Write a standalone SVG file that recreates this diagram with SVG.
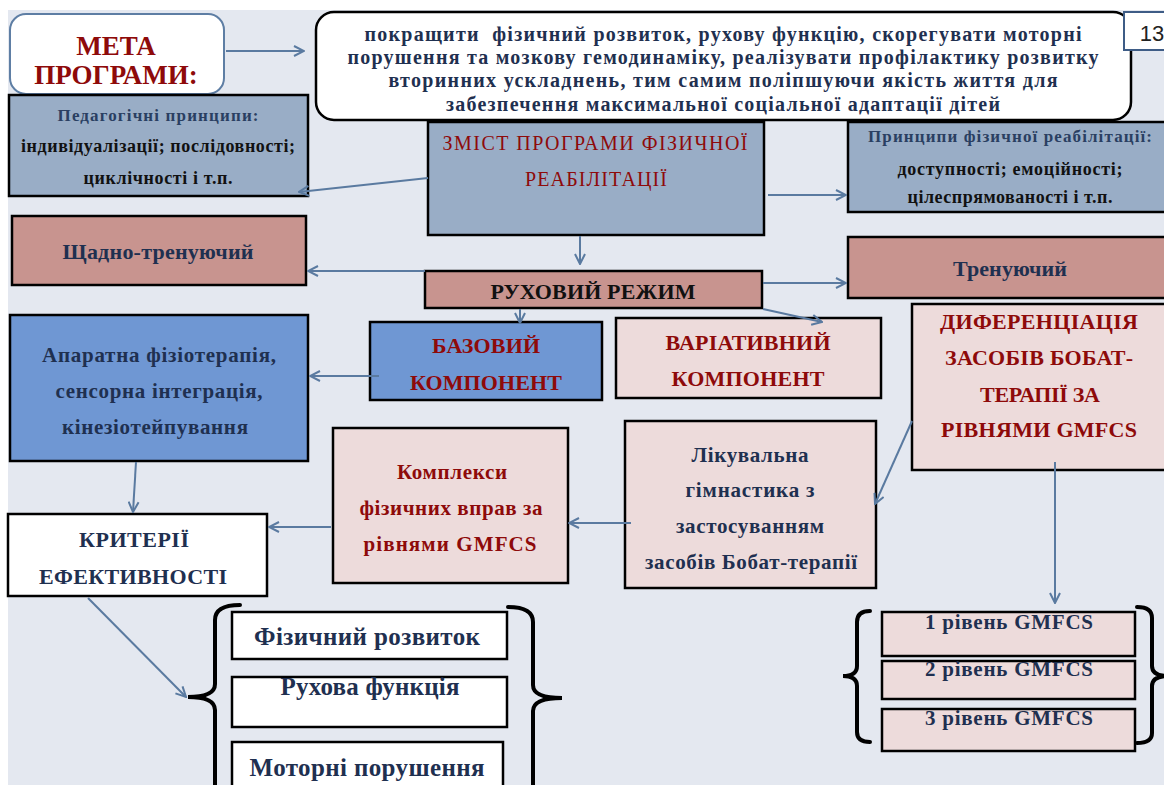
<svg xmlns="http://www.w3.org/2000/svg" width="1164" height="785" viewBox="0 0 1164 785">
<defs>
<style>
.bx{stroke:#000;stroke-width:2.5}
.gb{fill:#99ADC6}
.rs{fill:#C8948F}
.pk{fill:#EDDBDB}
.bl{fill:#6F97D3}
.wh{fill:#fff}
text{font-family:"Liberation Serif","Times New Roman",serif;font-weight:bold;text-anchor:middle}
.nv{fill:#1F3050}
.rd{fill:#8E0A0A}
.bk{fill:#111}
.cn{stroke:#5A7AA0;stroke-width:2;fill:none}
.br{stroke:#000;stroke-width:4;fill:none;stroke-linecap:round}
</style>
<marker id="ar" viewBox="0 0 12 12" refX="11" refY="6" markerWidth="12" markerHeight="12" markerUnits="userSpaceOnUse" orient="auto">
<path d="M1,1 L11,6 L1,11" fill="none" stroke="#5A7AA0" stroke-width="2"/>
</marker>
</defs>
<rect x="0" y="0" width="1164" height="785" fill="#fff"/>
<rect x="8" y="10" width="1156" height="775" fill="#E4E8F0"/>

<g id="meta">
<rect x="10" y="14" width="214" height="80" rx="16" fill="#fff" stroke="#5E7EA4" stroke-width="2"/>
<text class="rd" x="116" y="55" font-size="27">МЕТА</text>
<text class="rd" x="116" y="84" font-size="27">ПРОГРАМИ:</text>
</g>

<g id="goal">
<rect x="316" y="12" width="815" height="108" rx="18" fill="#fff" stroke="#000" stroke-width="2.5"/>
<text class="nv" x="723" y="41" font-size="20" textLength="717">покращити&#160; фізичний розвиток, рухову функцію, скорегувати моторні</text>
<text class="nv" x="723" y="64" font-size="20" textLength="751">порушення та мозкову гемодинаміку, реалізувати профілактику розвитку</text>
<text class="nv" x="723" y="87" font-size="20" textLength="669">вторинних ускладнень, тим самим поліпшуючи якість життя для</text>
<text class="nv" x="723" y="111" font-size="20" textLength="554">забезпечення максимальної соціальної адаптації дітей</text>
</g>

<g id="page">
<rect x="1124" y="12" width="50" height="38" fill="#fff" stroke="#3E5C86" stroke-width="2"/>
<text x="1152" y="41" font-size="22" style="font-family:'Liberation Sans',Arial,sans-serif;font-weight:normal" fill="#222">13</text>
</g>

<g id="ped">
<rect class="bx gb" x="9" y="95" width="299" height="101"/>
<text x="158" y="121" font-size="17" fill="#2A3F62" textLength="201">Педагогічні принципи:</text>
<text class="bk" x="158" y="152" font-size="18" textLength="274">індивідуалізації; послідовності;</text>
<text class="bk" x="158" y="184" font-size="18" textLength="149">циклічності і т.п.</text>
</g>

<g id="zmist">
<rect class="bx gb" x="428" y="122" width="336" height="113"/>
<text class="rd" x="595" y="150" font-size="20" style="font-weight:normal" textLength="305">ЗМІСТ ПРОГРАМИ ФІЗИЧНОЇ</text>
<text class="rd" x="596" y="186" font-size="20" style="font-weight:normal" textLength="142">РЕАБІЛІТАЦІЇ</text>
</g>

<g id="princ">
<rect class="bx gb" x="848" y="122" width="320" height="90"/>
<text x="1010" y="142" font-size="17" fill="#2A3F62" textLength="284">Принципи фізичної реабілітації:</text>
<text class="bk" x="1010" y="175" font-size="18" textLength="225">доступності; емоційності;</text>
<text class="bk" x="1010" y="203" font-size="18" textLength="205">цілеспрямованості і т.п.</text>
</g>

<g id="shchadno">
<rect class="bx rs" x="12" y="216" width="294" height="69"/>
<text class="nv" x="158" y="259" font-size="22" textLength="191">Щадно-тренуючий</text>
</g>

<g id="rukhovyi">
<rect class="bx rs" x="425" y="271" width="337" height="37"/>
<text class="bk" x="593" y="299" font-size="22" textLength="205">РУХОВИЙ РЕЖИМ</text>
</g>

<g id="trenuiuchyi">
<rect class="bx rs" x="848" y="237" width="320" height="61"/>
<text class="nv" x="1010" y="276" font-size="22" textLength="114">Тренуючий</text>
</g>

<g id="bazovyi">
<rect class="bx bl" x="370" y="322" width="232" height="78"/>
<text class="rd" x="486" y="353" font-size="22" textLength="108">БАЗОВИЙ</text>
<text class="rd" x="486" y="390" font-size="22" textLength="152">КОМПОНЕНТ</text>
</g>

<g id="variatyvnyi">
<rect class="bx pk" x="616" y="318" width="265" height="80"/>
<text class="rd" x="748" y="350" font-size="22" textLength="165">ВАРІАТИВНИЙ</text>
<text class="rd" x="748" y="386" font-size="22" textLength="153">КОМПОНЕНТ</text>
</g>

<g id="dyferentsiatsiia">
<rect class="bx pk" x="912" y="304" width="256" height="166"/>
<text class="rd" x="1039" y="329" font-size="22" textLength="198">ДИФЕРЕНЦІАЦІЯ</text>
<text class="rd" x="1039" y="365" font-size="22" textLength="188">ЗАСОБІВ БОБАТ-</text>
<text class="rd" x="1040" y="402" font-size="22" textLength="120">ТЕРАПІЇ ЗА</text>
<text class="rd" x="1039" y="437" font-size="22" textLength="196">РІВНЯМИ GMFCS</text>
</g>

<g id="aparatna">
<rect class="bx bl" x="10" y="315" width="298" height="146"/>
<text class="nv" x="159" y="362" font-size="21" textLength="234">Апаратна фізіотерапія,</text>
<text class="nv" x="159" y="398" font-size="21" textLength="207">сенсорна інтеграція,</text>
<text class="nv" x="155" y="434" font-size="21" textLength="186">кінезіотейпування</text>
</g>

<g id="kryterii">
<rect class="bx wh" x="8" y="514" width="259" height="82"/>
<text class="nv" x="134" y="547" font-size="22" textLength="110">КРИТЕРІЇ</text>
<text class="nv" x="133" y="584" font-size="22" textLength="188">ЕФЕКТИВНОСТІ</text>
</g>

<g id="kompleksy">
<rect class="bx pk" x="333" y="428" width="235" height="155"/>
<text class="rd" x="452" y="479" font-size="21" textLength="110">Комплекси</text>
<text class="rd" x="451" y="515" font-size="21" textLength="183">фізичних вправ за</text>
<text class="rd" x="450" y="551" font-size="21" textLength="173">рівнями GMFCS</text>
</g>

<g id="likuvalna">
<rect class="bx pk" x="625" y="421" width="251" height="167"/>
<text class="nv" x="750" y="462" font-size="21" textLength="117">Лікувальна</text>
<text class="nv" x="750" y="497" font-size="21" textLength="129">гімнастика з</text>
<text class="nv" x="750" y="533" font-size="21" textLength="148">застосуванням</text>
<text class="nv" x="751" y="569" font-size="21" textLength="212">засобів Бобат-терапії</text>
</g>

<g id="criteria-list">
<path class="br" d="M240,605 Q215,605 215,620 L215,684 Q215,697 188,697 Q215,697 215,710 L215,792"/>
<path class="br" d="M508,607 Q533,607 533,622 L533,685 Q533,698 562,698 Q533,698 533,711 L533,792"/>
</g>

<g id="fizychnyi">
<rect class="bx wh" x="232" y="612" width="275" height="47"/>
<text class="nv" x="367" y="645" font-size="25" textLength="226">Фізичний розвиток</text>
</g>

<g id="rukhova">
<rect class="bx wh" x="232" y="677" width="275" height="50"/>
<text class="nv" x="370" y="695" font-size="25" textLength="179">Рухова функція</text>
</g>

<g id="motorni">
<rect class="bx wh" x="232" y="742" width="271" height="50"/>
<text class="nv" x="367" y="776" font-size="25" textLength="235">Моторні порушення</text>
</g>

<g id="levels-list">
<path class="br" d="M870,611 Q857,611 857,622 L857,666 Q857,676 843,676 Q857,676 857,686 L857,732 Q857,742 870,742"/>
<path class="br" d="M1137,607 Q1152,607 1152,618 L1152,666 Q1152,676 1168,676 Q1152,676 1152,686 L1152,733 Q1152,743 1137,743"/>
</g>

<g id="level1">
<rect class="bx pk" x="882" y="612" width="253" height="44"/>
<text class="nv" x="1009" y="629" font-size="21" textLength="168">1 рівень GMFCS</text>
</g>
<g id="level2">
<rect class="bx pk" x="882" y="661" width="253" height="38"/>
<text class="nv" x="1009" y="676" font-size="21" textLength="168">2 рівень GMFCS</text>
</g>
<g id="level3">
<rect class="bx pk" x="882" y="709" width="253" height="42"/>
<text class="nv" x="1009" y="725" font-size="21" textLength="168">3 рівень GMFCS</text>
</g>

<g id="connectors">
<line class="cn" x1="226" y1="51" x2="304" y2="51" marker-end="url(#ar)"/>
<line class="cn" x1="428" y1="178" x2="299" y2="192" marker-end="url(#ar)"/>
<line class="cn" x1="768" y1="195" x2="846" y2="195" marker-end="url(#ar)"/>
<line class="cn" x1="580" y1="236" x2="580" y2="264" marker-end="url(#ar)"/>
<line class="cn" x1="425" y1="271" x2="308" y2="271" marker-end="url(#ar)"/>
<line class="cn" x1="763" y1="283" x2="846" y2="283" marker-end="url(#ar)"/>
<line class="cn" x1="763" y1="309" x2="822" y2="322" marker-end="url(#ar)"/>
<line class="cn" x1="520" y1="309" x2="520" y2="323" marker-end="url(#ar)"/>
<line class="cn" x1="379" y1="376" x2="310" y2="376" marker-end="url(#ar)"/>
<line class="cn" x1="136" y1="462" x2="133" y2="512" marker-end="url(#ar)"/>
<line class="cn" x1="331" y1="527" x2="269" y2="527" marker-end="url(#ar)"/>
<line class="cn" x1="631" y1="523" x2="569" y2="523" marker-end="url(#ar)"/>
<line class="cn" x1="912" y1="421" x2="875" y2="504" marker-end="url(#ar)"/>
<line class="cn" x1="1055" y1="462" x2="1055" y2="603" marker-end="url(#ar)"/>
<line class="cn" x1="88" y1="598" x2="186" y2="697" marker-end="url(#ar)"/>
</g>
</svg>
